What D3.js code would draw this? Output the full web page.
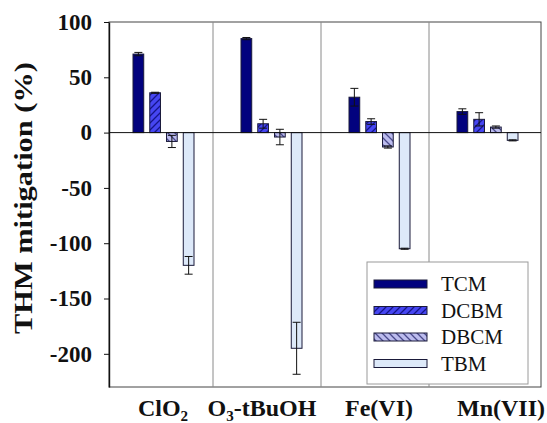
<!DOCTYPE html>
<html>
<head>
<meta charset="utf-8">
<script src="https://cdn.jsdelivr.net/npm/d3@7/dist/d3.min.js"></script>
<style>
  html, body { margin: 0; padding: 0; background: #fff; }
  svg { display: block; }
</style>
</head>
<body>
<svg id="chart" width="547" height="423"></svg>
<script>
// Oxidant treatments (x groups) and THM species (series)
const treatments = ["ClO2", "O3-tBuOH", "Fe(VI)", "Mn(VII)"];
const species = ["TCM", "DCBM", "DBCM", "TBM"];

// THM mitigation (%) per treatment, one array per species
const tcmValues  = [71, 85, 32, 19];
const dcbmValues = [36, 8, 10, 12];
const dbcmValues = [-8, -4, -13, 5];
const tbmValues  = [-120, -195, -105, -7];

// Standard deviations (error bars)
const tcmErr  = [1.5, 1, 8, 2.5];
const dcbmErr = [0.5, 4, 2.5, 6];
const dbcmErr = [5.5, 7, 1, 1];
const tbmErr  = [8, 23.5, 0.5, 0.5];

const yTicks = [100, 50, 0, -50, -100, -150, -200];

const FONT = "Liberation Serif";

const seriesValues = [tcmValues, dcbmValues, dbcmValues, tbmValues];
const seriesErr = [tcmErr, dcbmErr, dbcmErr, tbmErr];

const rows = [];
species.forEach((s, si) => {
  treatments.forEach((t, ti) => {
    rows.push({ species: s, treatment: t, value: seriesValues[si][ti], err: seriesErr[si][ti] });
  });
});

const svg = d3.select("#chart");
const plot = { left: 109, right: 541, top: 22, bottom: 387 };

const x = d3.scaleBand().domain(treatments).range([plot.left, plot.right]).padding(0);
const xs = d3.scaleBand().domain(species).range([24, 85]).paddingInner(0.36);
const y = d3.scaleLinear().domain([-230, 100]).range([plot.bottom, plot.top]);

// hatch patterns
const defs = svg.append("defs");
function hatch(id, bg, line, dir) {
  const p = defs.append("pattern")
    .attr("id", id).attr("patternUnits", "userSpaceOnUse")
    .attr("width", 7).attr("height", 7);
  p.append("rect").attr("width", 7).attr("height", 7).attr("fill", bg);
  const d = dir > 0
    ? "M-1,1 l2,-2 M0,7 l7,-7 M6,8 l2,-2"
    : "M-1,6 l2,2 M0,0 l7,7 M6,-1 l2,2";
  p.append("path").attr("d", d).attr("stroke", line).attr("stroke-width", 1.3);
}
hatch("hatchDCBM", "#4646f2", "#14148a", 1);
hatch("hatchDBCM", "#bcbcee", "#4a4a8c", -1);

const fills = {
  TCM: "#02027e",
  DCBM: "url(#hatchDCBM)",
  DBCM: "url(#hatchDBCM)",
  TBM: "#dde9f9"
};

// plot frame
svg.append("rect")
  .attr("x", plot.left).attr("y", plot.top)
  .attr("width", plot.right - plot.left).attr("height", plot.bottom - plot.top)
  .attr("fill", "#fff").attr("stroke", "#444").attr("stroke-width", 1);

// group dividers
svg.append("g").selectAll("line")
  .data(treatments.slice(0, -1))
  .join("line")
  .attr("x1", d => x(d) + x.bandwidth() - 4)
  .attr("x2", d => x(d) + x.bandwidth() - 4)
  .attr("y1", plot.top).attr("y2", plot.bottom)
  .attr("stroke", "#8a8a8a").attr("stroke-width", 1);

// bars
svg.append("g").selectAll("rect")
  .data(rows)
  .join("rect")
  .attr("x", d => x(d.treatment) + xs(d.species))
  .attr("width", xs.bandwidth())
  .attr("y", d => Math.min(y(d.value), y(0)))
  .attr("height", d => Math.abs(y(d.value) - y(0)))
  .attr("fill", d => fills[d.species])
  .attr("stroke", "#1a1a3a").attr("stroke-width", 1);

// error bars
const eb = svg.append("g").attr("stroke", "#111").attr("stroke-width", 1);
rows.forEach(d => {
  const cx = x(d.treatment) + xs(d.species) + xs.bandwidth() / 2;
  const y1 = y(d.value + d.err), y2 = y(d.value - d.err);
  const cap = 4;
  eb.append("line").attr("x1", cx).attr("x2", cx).attr("y1", y1).attr("y2", y2);
  eb.append("line").attr("x1", cx - cap).attr("x2", cx + cap).attr("y1", y1).attr("y2", y1);
  eb.append("line").attr("x1", cx - cap).attr("x2", cx + cap).attr("y1", y2).attr("y2", y2);
});

// zero line
svg.append("line")
  .attr("x1", plot.left).attr("x2", plot.right)
  .attr("y1", y(0)).attr("y2", y(0))
  .attr("stroke", "#111").attr("stroke-width", 1);

// y axis
const yAxis = svg.append("g")
  .attr("transform", `translate(${plot.left},0)`)
  .call(d3.axisLeft(y).tickValues(yTicks).tickSize(5).tickSizeOuter(0).tickPadding(12).tickFormat(d3.format("d")));
yAxis.attr("font-family", FONT).attr("font-size", 23).attr("font-weight", "bold");
yAxis.select(".domain").attr("stroke", "#111").attr("stroke-width", 1.4);
yAxis.selectAll(".tick line").attr("stroke", "#111");
yAxis.selectAll("text")
  .attr("fill", "#111")
  .text(d => d < 0 ? "-" + Math.abs(d) : d);

// axis title
svg.append("text")
  .attr("transform", "translate(32,198) rotate(-90)")
  .attr("text-anchor", "middle")
  .attr("font-family", FONT)
  .attr("font-weight", "bold").attr("font-size", 25).attr("fill", "#111")
  .attr("textLength", 272).attr("lengthAdjust", "spacingAndGlyphs")
  .text("THM mitigation (%)");

// x labels with subscripts
const labelNudge = [0, -9, 0, 14];
const xl = svg.append("g")
  .attr("font-family", FONT)
  .attr("font-weight", "bold").attr("font-size", 24).attr("fill", "#111");
treatments.forEach((t, i) => {
  const txt = xl.append("text")
    .attr("x", x(t) + x.bandwidth() / 2 + labelNudge[i])
    .attr("y", 416)
    .attr("text-anchor", "middle");
  const m = t.match(/^([A-Za-z]+)(\d)(.*)$/);
  if (m) {
    txt.append("tspan").text(m[1]);
    txt.append("tspan").attr("font-size", 15).attr("dy", 5).text(m[2]);
    txt.append("tspan").attr("dy", -5).text(m[3]);
  } else {
    txt.text(t);
  }
});

// legend
const lg = svg.append("g");
lg.append("rect")
  .attr("x", 367).attr("y", 262).attr("width", 161).attr("height", 122)
  .attr("fill", "#fff").attr("stroke", "#9a9a9a").attr("stroke-width", 1);
species.forEach((s, i) => {
  const cy = 284 + i * 26.5;
  lg.append("rect")
    .attr("x", 374).attr("y", cy - 4).attr("width", 53).attr("height", 8)
    .attr("fill", fills[s]).attr("stroke", "#1a1a3a").attr("stroke-width", 1);
  lg.append("text")
    .attr("x", 441).attr("y", cy + 7)
    .attr("font-family", FONT)
    .attr("font-size", 21).attr("fill", "#111")
    .text(s);
});
</script>
</body>
</html>
